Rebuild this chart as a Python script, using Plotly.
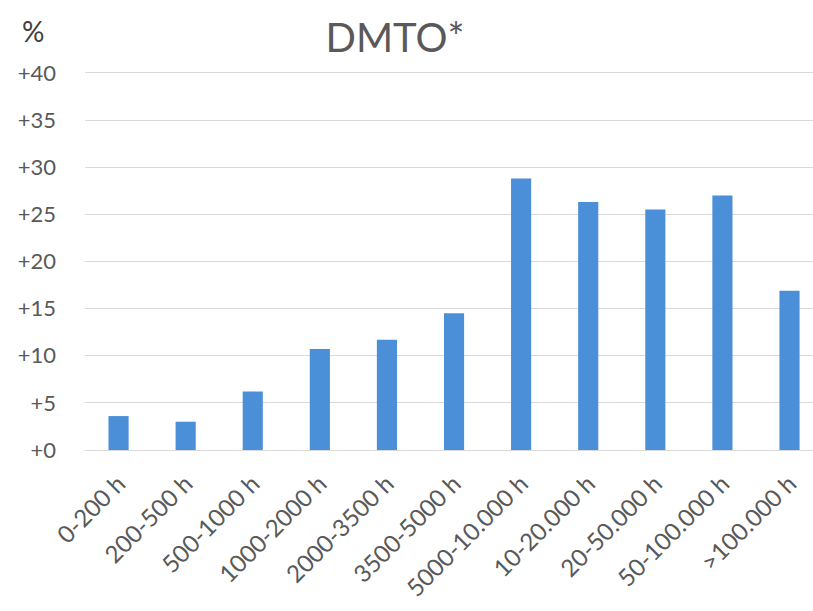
import plotly.graph_objects as go

# Operating-hour classes and the DMTO* change (%) for each class
hour_classes = [
    "0-200 h", "200-500 h", "500-1000 h", "1000-2000 h", "2000-3500 h",
    "3500-5000 h", "5000-10.000 h", "10-20.000 h", "20-50.000 h",
    "50-100.000 h", ">100.000 h",
]
dmto_change = [3.6, 3.0, 6.2, 10.7, 11.7, 14.5, 28.8, 26.3, 25.5, 27.0, 16.9]

y_ticks = [0, 5, 10, 15, 20, 25, 30, 35, 40]
y_tick_labels = ["+" + str(v) for v in y_ticks]

FONT = "Lato, 'Open Sans', sans-serif"
GREY = "#595959"

fig = go.Figure(
    go.Bar(
        x=hour_classes,
        y=dmto_change,
        marker=dict(color="#4A8FD8", line=dict(width=0)),
        width=0.3,
    )
)

fig.update_layout(
    width=813,
    height=611,
    paper_bgcolor="white",
    plot_bgcolor="white",
    margin=dict(l=85, r=0, t=71, b=161),
    showlegend=False,
    font=dict(family=FONT, color=GREY),
    title=dict(
        text="DMTO*",
        x=395 / 813,
        xanchor="center",
        y=1 - 38 / 611,
        yanchor="middle",
        font=dict(family=FONT, size=40, color=GREY),
    ),
    annotations=[
        dict(
            text="%",
            xref="paper",
            yref="paper",
            x=-52 / 728,
            y=1 + 40 / 379,
            xanchor="center",
            yanchor="middle",
            showarrow=False,
            font=dict(family=FONT, size=28, color="#404040"),
        )
    ],
)

fig.update_xaxes(
    type="category",
    range=[-0.5, 10.35],
    tickangle=-45,
    tickfont=dict(family=FONT, size=24, color=GREY),
    ticklabelstandoff=14,
    showgrid=False,
    showline=False,
    ticks="",
    fixedrange=True,
)

fig.update_yaxes(
    range=[0, 40.2],
    tickvals=y_ticks,
    ticktext=y_tick_labels,
    tickfont=dict(family=FONT, size=22, color=GREY),
    ticklabelstandoff=28,
    showgrid=True,
    gridcolor="#D9D9D9",
    gridwidth=1.3,
    zeroline=True,
    zerolinecolor="#D9D9D9",
    zerolinewidth=1.3,
    showline=False,
    ticks="",
    fixedrange=True,
)

fig.write_html("out.html")
